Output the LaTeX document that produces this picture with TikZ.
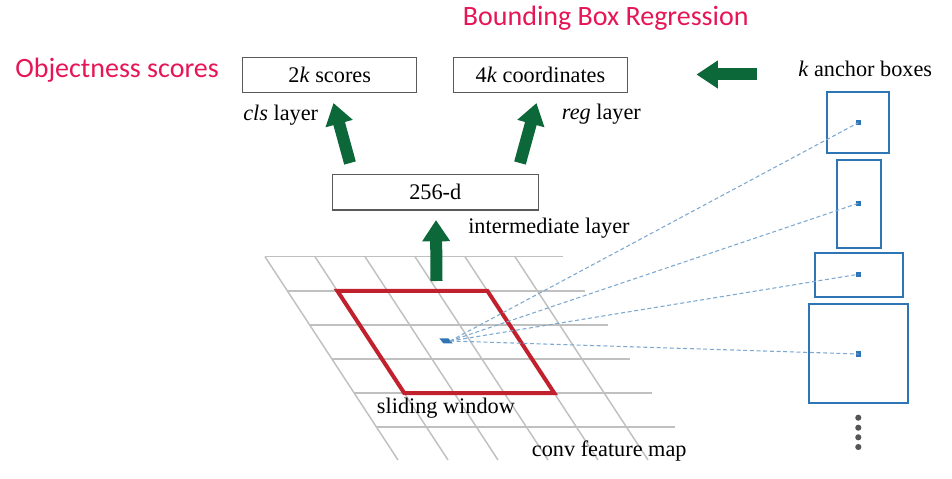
\documentclass[tikz,border=0pt]{standalone}
\usepackage{fontspec}
\setmainfont{Liberation Serif}
\newfontfamily\carlfont{Carlito}
\usetikzlibrary{arrows.meta}
\definecolor{arrgreen}{RGB}{12,104,56}
\definecolor{titlered}{RGB}{230,22,86}
\definecolor{winred}{RGB}{193,33,45}
\definecolor{anchorblue}{RGB}{46,117,182}
\definecolor{dashblue}{RGB}{125,168,208}
\definecolor{gridgray}{RGB}{192,192,192}
\definecolor{boxgray}{RGB}{90,90,90}
\definecolor{dotgray}{RGB}{85,85,85}
\begin{document}
\begin{tikzpicture}[x=0.75pt,y=-0.75pt,
  serif/.style={font=\rmfamily\fontsize{16.7}{20}\selectfont},
  titletext/.style={font=\carlfont\fontsize{21}{25}\selectfont, text=titlered, inner sep=0},
  lbl/.style={serif, inner sep=0},
  layerbox/.style={draw=boxgray, line width=1pt, minimum height=26.3pt, inner sep=0, serif},
  bigarrow/.style={draw=arrgreen, line width=9pt, -{Triangle[width=20pt,length=16pt]}},
  anchorbox/.style={draw=anchorblue, line width=1.5pt, inner sep=0},
  anchordot/.style={fill=anchorblue, minimum size=3.8pt, inner sep=0},
  gridline/.style={draw=gridgray, line width=1.1pt},
  window/.style={draw=winred, line width=3pt, line join=miter},
  dashlink/.style={draw=dashblue, line width=0.8pt, dash pattern=on 3pt off 2pt},
  moredot/.style={fill=dotgray, circle, minimum size=4.6pt, inner sep=0}
]
\path[use as bounding box] (0,0) rectangle (952,478);

% conv feature map grid
\foreach \k in {0,...,5} {
  \path[gridline] ({265+22.3*\k},{256.7+34.1*\k}) -- ({563+22.3*\k},{256.7+34.1*\k});
}
\foreach \i in {0,...,5} {
  \path[gridline] ({265+50*\i},256.7) -- ({398+50*\i},460);
}

% sliding window
\path[window] (337.3,290.8) -- (487.3,290.8) -- (554.2,393) -- (404.2,393) -- cycle;

% anchor boxes
\node[anchorbox, minimum width=46.5pt, minimum height=46.2pt] (b1) at (858.3,122.5) {};
\node[anchorbox, minimum width=33.2pt, minimum height=65.8pt] (b2) at (858.8,203.8) {};
\node[anchorbox, minimum width=65.8pt, minimum height=32.5pt] (b3) at (858.8,275) {};
\node[anchorbox, minimum width=74.2pt, minimum height=74.2pt] (b4) at (858.8,353.8) {};
\node[anchordot] (d1) at (858.3,122.7) {};
\node[anchordot] (d2) at (858.3,203.3) {};
\node[anchordot] (d3) at (858.3,274.3) {};
\node[anchordot] (d4) at (858.3,354) {};
\node[moredot] (m1) at (858.3,417.7) {};
\node[moredot] (m2) at (858.3,427.7) {};
\node[moredot] (m3) at (858.3,437.3) {};
\node[moredot] (m4) at (858.3,447) {};

% window centre and dashed links
\fill[anchorblue] (439.3,338.3) -- (448.3,338.3) -- (452.7,343.3) -- (443.3,343.3) -- cycle;
\coordinate (ctr) at (450,341);
\foreach \d in {d1,d2,d3,d4} {
  \path[dashlink] (ctr) -- (\d.center);
}

% layer boxes
\node[layerbox, minimum width=130.5pt] (cls) at (329.7,74.8) {2\textit{k} scores};
\node[layerbox, minimum width=130.8pt] (reg) at (540.5,74.8) {4\textit{k} coordinates};
\node[layerbox, minimum width=154.5pt, minimum height=26.8pt] (mid) at (435.3,192.2) {256-d};

% arrows
\coordinate (ta) at (436.5,281);
\coordinate (ha) at (436,220);
\coordinate (tc) at (350,163);
\coordinate (hc) at (333.5,103);
\coordinate (tr) at (520,163);
\coordinate (hr) at (536.5,103);
\coordinate (tk) at (757,74.5);
\coordinate (hk) at (696.5,74.5);
\path[bigarrow] (ta) -- (ha);
\path[bigarrow] (tc) -- (hc);
\path[bigarrow] (tr) -- (hr);
\path[bigarrow] (tk) -- (hk);

% labels
\node[titletext, anchor=base west] (obj) at (15,78) {Objectness scores};
\node[titletext, anchor=base west] (bbr) at (462.7,26) {Bounding Box Regression};
\node[lbl, anchor=base west] (clsl) at (243,120) {\textit{cls} layer};
\node[lbl, anchor=base west] (regl) at (561.7,119) {\textit{reg} layer};
\node[lbl, anchor=base west] (kab) at (798,77) {\textit{k} anchor boxes};
\node[lbl, anchor=base west] (iml) at (468,233) {intermediate layer};
\node[lbl, anchor=base west] (slw) at (376.7,413) {sliding window};
\node[lbl, anchor=base west] (cfm) at (531.7,456.7) {conv feature map};
\end{tikzpicture}
\end{document}
